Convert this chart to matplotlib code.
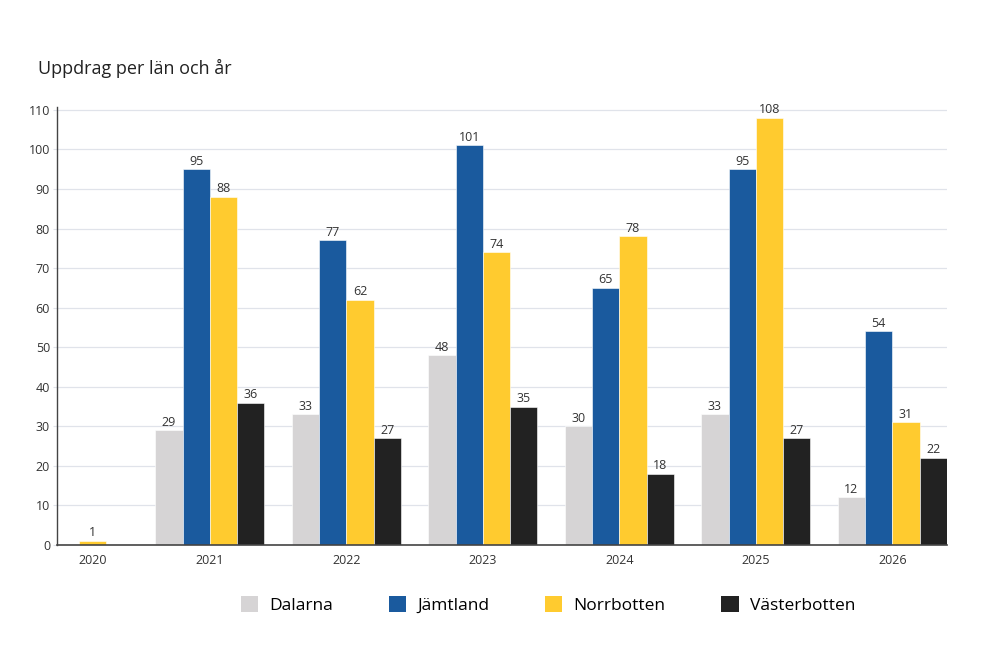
import numpy as np
import matplotlib.pyplot as plt
from matplotlib.patches import Patch

plt.rcParams["font.family"] = ["Open Sans", "DejaVu Sans"]

years = ["2020", "2021", "2022", "2023", "2024", "2025", "2026"]
series = ["Dalarna", "Jämtland", "Norrbotten", "Västerbotten"]
dalarna = [None, 29, 33, 48, 30, 33, 12]
jamtland = [None, 95, 77, 101, 65, 95, 54]
norrbotten = [1, 88, 62, 74, 78, 108, 31]
vasterbotten = [None, 36, 27, 35, 18, 27, 22]
colors = ["#d6d4d5", "#1a5a9e", "#ffcb2f", "#222222"]

data = [dalarna, jamtland, norrbotten, vasterbotten]

fig = plt.figure(figsize=(10, 6.67), dpi=100)
ax = fig.add_axes([0.057, 0.183, 0.890, 0.657])

# group layout in bar-width units (2020 has a single bar)
pad_left, gap_first, gap = 0.8, 1.8, 1.0
x = pad_left
for gi, year in enumerate(years):
    present = [si for si in range(4) if data[si][gi] is not None]
    start = x
    for k, si in enumerate(present):
        v = data[si][gi]
        ax.bar(start + k + 0.5, v, width=1.0, color=colors[si],
               edgecolor="white", linewidth=0.4, zorder=2)
        ax.text(start + k + 0.5, v + 0.4, str(v), ha="center", va="bottom",
                fontsize=9, color="#333333")
    center = start + len(present) / 2
    ax.text(center, -2.2, year, ha="center", va="top", fontsize=9,
            color="#333333")
    x = start + len(present) + (gap_first if gi == 0 else gap)

ax.set_xlim(0, x - gap)
ax.set_ylim(0, 110.8)
ax.set_xticks([])
ax.set_yticks(np.arange(0, 111, 10))
ax.tick_params(axis="y", length=3, color="#e0e3ea", labelsize=9,
               labelcolor="#333333", pad=2)
ax.grid(axis="y", color="#e0e3ea", linewidth=0.9, zorder=0)
for s in ["top", "right"]:
    ax.spines[s].set_visible(False)
ax.spines["left"].set_color("#444444")
ax.spines["bottom"].set_color("#444444")
ax.spines["left"].set_linewidth(1.0)
ax.spines["bottom"].set_linewidth(1.2)

fig.text(0.038, 0.897, "Uppdrag per län och år", fontsize=13, color="#222222",
         ha="left", va="center")

handles = [Patch(facecolor=c, edgecolor="none") for c in colors]
fig.legend(handles, series, loc="center", bbox_to_anchor=(0.548, 0.093),
           ncol=4, frameon=False, fontsize=12.5, handlelength=1.0,
           handleheight=1.0, handletextpad=0.65, columnspacing=3.2)

fig.savefig("out.png", dpi=100)
